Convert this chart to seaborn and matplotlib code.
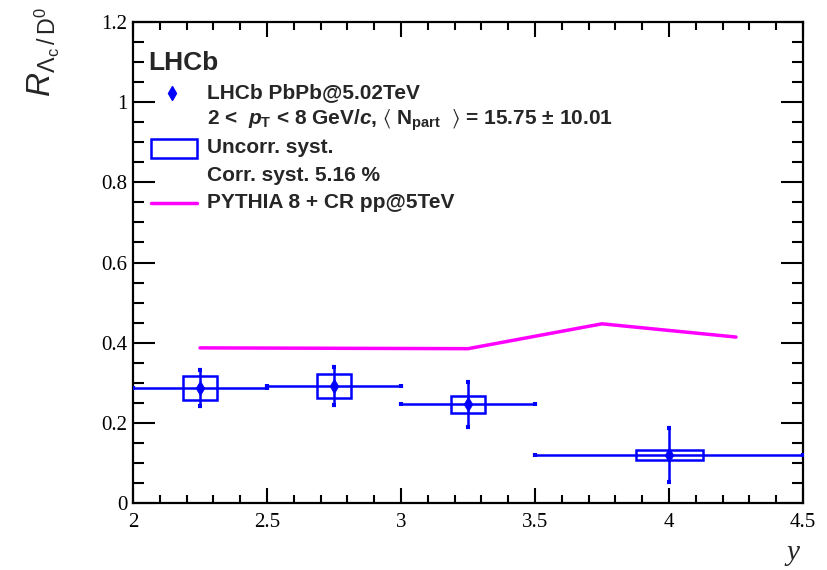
import numpy as np
import pandas as pd
import matplotlib
matplotlib.use('Agg')
import matplotlib.pyplot as plt
import seaborn as sns
from matplotlib.patches import Rectangle
from matplotlib.lines import Line2D
from matplotlib.ticker import MultipleLocator, FuncFormatter

# ---------------- data ----------------
rapidity = [2.25, 2.75, 3.25, 4.0]
rap_halfwidth = [0.25, 0.25, 0.25, 0.5]
ratio = [0.287, 0.292, 0.246, 0.120]
stat_err = [0.044, 0.048, 0.056, 0.067]
syst_err = [0.031, 0.029, 0.021, 0.0125]

pythia_y = [2.25, 2.75, 3.25, 3.75, 4.25]
pythia_ratio = [0.387, 0.386, 0.385, 0.447, 0.414]

x_ticks = [2, 2.5, 3, 3.5, 4, 4.5]
y_ticks = [0, 0.2, 0.4, 0.6, 0.8, 1.0, 1.2]

legend_labels = [
    "LHCb PbPb@5.02TeV",
    r"2 <  $p_{\mathrm{T}}$ < 8 GeV/$c$, $\langle$ N$_{\mathrm{part}}$  $\rangle$ = 15.75 $\pm$ 10.01",
    "Uncorr. syst.",
    "Corr. syst. 5.16 %",
    "PYTHIA 8 + CR pp@5TeV",
]

# ---------------- style ----------------
sns.set_style('ticks')
plt.rcParams['font.family'] = ['Liberation Sans', 'DejaVu Sans']
plt.rcParams['mathtext.fontset'] = 'custom'
plt.rcParams['mathtext.rm'] = 'Liberation Sans:bold'
plt.rcParams['mathtext.it'] = 'Liberation Sans:italic:bold'
plt.rcParams['mathtext.bf'] = 'Liberation Sans:bold'
plt.rcParams['mathtext.sf'] = 'Liberation Sans:italic'
plt.rcParams['mathtext.tt'] = 'Liberation Sans'
plt.rcParams['mathtext.fallback'] = 'stixsans'

BLUE = '#0000ff'
MAGENTA = '#ff00ff'
W, H = 828, 570

def fp(xp, yp):
    return (xp / W, 1 - yp / H)

fig = plt.figure(figsize=(W / 100, H / 100), dpi=100)
ax = fig.add_axes([133 / W, 1 - 503 / H, 670 / W, 481 / H])

df = pd.DataFrame({'y': rapidity, 'R': ratio, 'hw': rap_halfwidth,
                   'stat': stat_err, 'syst': syst_err})
pyt = pd.DataFrame({'y': pythia_y, 'R': pythia_ratio})

sns.lineplot(data=pyt, x='y', y='R', color=MAGENTA, lw=2.5, ax=ax, legend=False, zorder=2)

for _, r in df.iterrows():
    ax.add_patch(Rectangle((r.y - r.hw / 4, r.R - r.syst), r.hw / 2, 2 * r.syst,
                           fill=False, ec=BLUE, lw=1.8, zorder=3))
ax.errorbar(df.y, df.R, xerr=df.hw, yerr=df.stat, fmt='none', ecolor=BLUE,
            elinewidth=1.8, capsize=1.5, capthick=3, zorder=4)
sns.scatterplot(data=df, x='y', y='R', marker='d', color=BLUE, s=55,
                edgecolor=BLUE, linewidth=0.5, ax=ax, zorder=5, legend=False)

ax.set_xlim(2, 4.5)
ax.set_ylim(0, 1.2)
ax.set_xticks(x_ticks)
ax.set_yticks(y_ticks)
ax.xaxis.set_minor_locator(MultipleLocator(0.1))
ax.yaxis.set_minor_locator(MultipleLocator(0.05))
fmt = FuncFormatter(lambda v, p: '%g' % round(v, 3))
ax.xaxis.set_major_formatter(fmt)
ax.yaxis.set_major_formatter(fmt)
ax.set_xlabel('')
ax.set_ylabel('')

for s in ax.spines.values():
    s.set_linewidth(1.6)
    s.set_color('black')
ax.tick_params(which='both', direction='in', top=True, right=True, width=1.5, colors='black')
ax.tick_params(axis='x', which='major', length=11, pad=7)
ax.tick_params(axis='x', which='minor', length=6)
ax.tick_params(axis='y', which='major', length=16, pad=4)
ax.tick_params(axis='y', which='minor', length=8)
for lab in ax.get_xticklabels() + ax.get_yticklabels():
    lab.set_fontfamily('Liberation Serif')
    lab.set_fontsize(15)

# axis titles
fig.text(*fp(793, 553), 'y', fontfamily='Liberation Serif', style='italic',
         fontsize=21, ha='center', va='center')
fig.text(*fp(44, 52),
         r'$\mathsf{R}_{\mathtt{\Lambda}_{\mathtt{c}}\mathtt{\,/\,D}^{\mathtt{0}}}$',
         rotation=90, fontsize=24, ha='center', va='center')

# legend block
fig.text(*fp(148, 63), 'LHCb', fontsize=19, fontweight='bold', ha='left', va='center')
fig.add_artist(Line2D([172 / W], [1 - 93 / H], marker='d', color=BLUE, ms=7,
                      transform=fig.transFigure))
rows = [93, 120, 148, 175, 203]
for yp, lab in zip(rows, legend_labels):
    fig.text(*fp(207, yp), lab, fontsize=15, fontweight='bold', ha='left', va='center')
x0, y0 = fp(151, 158)
x1, y1 = fp(197, 139)
fig.add_artist(Rectangle((x0, y0), x1 - x0, y1 - y0, fill=False, ec=BLUE, lw=1.8,
                         transform=fig.transFigure))
lx0, ly = fp(151, 203)
lx1, _ = fp(197, 203)
fig.add_artist(Line2D([lx0, lx1], [ly, ly], color=MAGENTA, lw=2.5, transform=fig.transFigure))

fig.savefig('out.png', dpi=100)
